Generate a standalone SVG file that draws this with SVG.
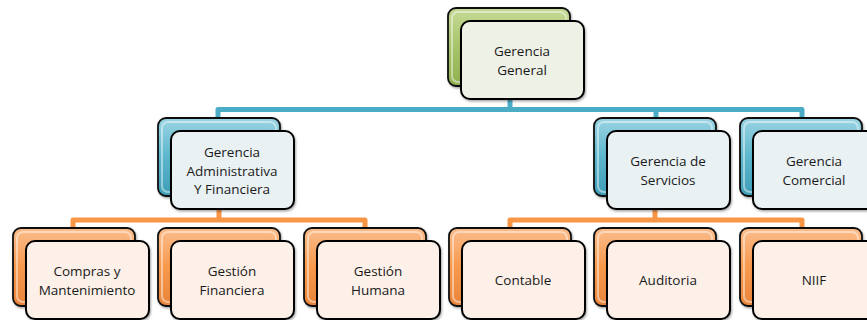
<svg xmlns="http://www.w3.org/2000/svg" width="867" height="320" viewBox="0 0 867 320">
<defs>
<linearGradient id="gGreen" x1="0" y1="0" x2="0" y2="1">
<stop offset="0" stop-color="#c5da95"/><stop offset="0.5" stop-color="#a6c46a"/><stop offset="1" stop-color="#8fb050"/>
</linearGradient>
<linearGradient id="gBlue" x1="0" y1="0" x2="0" y2="1">
<stop offset="0" stop-color="#9ad4e2"/><stop offset="0.5" stop-color="#5cb6cd"/><stop offset="1" stop-color="#3d9db6"/>
</linearGradient>
<linearGradient id="gOrange" x1="0" y1="0" x2="0" y2="1">
<stop offset="0" stop-color="#fbbd8c"/><stop offset="0.5" stop-color="#f7994c"/><stop offset="1" stop-color="#e9843a"/>
</linearGradient>
<filter id="sh" x="-10%" y="-10%" width="130%" height="130%">
<feDropShadow dx="1" dy="1.5" stdDeviation="1" flood-color="#000" flood-opacity="0.35"/>
</filter>
</defs>
<style>
.back{stroke:#111;stroke-width:1.8;filter:url(#sh)}
.hl{fill:none;stroke:#ffffff;stroke-opacity:0.45;stroke-width:2}
.front{stroke:#000;stroke-width:2;filter:url(#sh)}
.f1{fill:#eef1e6}
.f2{fill:#e9f1f3}
.f3{fill:#fcf0e8}
.lbl{font-family:"Open Sans","Noto Sans",sans-serif;font-size:13.5px;fill:#1a1a1a;text-anchor:middle}
.cb{fill:none;stroke:#4bacc6;stroke-width:5;stroke-linejoin:round}
.co{fill:none;stroke:#f79646;stroke-width:5;stroke-linejoin:round}
</style>
<g id="connectors">
<path class="cb" d="M510,88 V109.5 M218,122 V109.5 H802 V122 M656,109.5 V122"/>
<path class="co" d="M219,205 V220 M73,232 V220 H365 V232 M655,205 V220 M510,232 V220 H802 V232"/>
</g>
<g id="n-gerencia-general">
<rect class="back" x="448" y="8" width="122" height="78" rx="8" fill="url(#gGreen)"/>
<rect class="hl" x="452" y="12" width="114" height="70" rx="6"/>
<rect class="front f1" x="461" y="21" width="123" height="78" rx="9"/>
<text class="lbl" x="522" y="56">Gerencia</text>
<text class="lbl" x="522" y="74.5">General</text>
</g>
<g id="n-admin">
<rect class="back" x="158" y="118" width="122" height="78" rx="8" fill="url(#gBlue)"/>
<rect class="hl" x="162" y="122" width="114" height="70" rx="6"/>
<rect class="front f2" x="171" y="131" width="123" height="78" rx="9"/>
<text class="lbl" x="232" y="157">Gerencia</text>
<text class="lbl" x="232" y="175.5">Administrativa</text>
<text class="lbl" x="232" y="194">Y Financiera</text>
</g>
<g id="n-servicios">
<rect class="back" x="594" y="118" width="122" height="78" rx="8" fill="url(#gBlue)"/>
<rect class="hl" x="598" y="122" width="114" height="70" rx="6"/>
<rect class="front f2" x="607" y="131" width="123" height="78" rx="9"/>
<text class="lbl" x="668" y="166">Gerencia de</text>
<text class="lbl" x="668" y="184.5">Servicios</text>
</g>
<g id="n-comercial">
<rect class="back" x="740" y="118" width="122" height="78" rx="8" fill="url(#gBlue)"/>
<rect class="hl" x="744" y="122" width="114" height="70" rx="6"/>
<rect class="front f2" x="753" y="131" width="123" height="78" rx="9"/>
<text class="lbl" x="814" y="166">Gerencia</text>
<text class="lbl" x="814" y="184.5">Comercial</text>
</g>
<g id="n-compras">
<rect class="back" x="13" y="228" width="122" height="78" rx="8" fill="url(#gOrange)"/>
<rect class="hl" x="17" y="232" width="114" height="70" rx="6"/>
<rect class="front f3" x="26" y="241" width="123" height="78" rx="9"/>
<text class="lbl" x="87" y="276">Compras y</text>
<text class="lbl" x="87" y="294.5">Mantenimiento</text>
</g>
<g id="n-gestion-financiera">
<rect class="back" x="158" y="228" width="122" height="78" rx="8" fill="url(#gOrange)"/>
<rect class="hl" x="162" y="232" width="114" height="70" rx="6"/>
<rect class="front f3" x="171" y="241" width="123" height="78" rx="9"/>
<text class="lbl" x="232" y="276">Gestión</text>
<text class="lbl" x="232" y="294.5">Financiera</text>
</g>
<g id="n-gestion-humana">
<rect class="back" x="304" y="228" width="122" height="78" rx="8" fill="url(#gOrange)"/>
<rect class="hl" x="308" y="232" width="114" height="70" rx="6"/>
<rect class="front f3" x="317" y="241" width="123" height="78" rx="9"/>
<text class="lbl" x="378" y="276">Gestión</text>
<text class="lbl" x="378" y="294.5">Humana</text>
</g>
<g id="n-contable">
<rect class="back" x="449" y="228" width="122" height="78" rx="8" fill="url(#gOrange)"/>
<rect class="hl" x="453" y="232" width="114" height="70" rx="6"/>
<rect class="front f3" x="462" y="241" width="123" height="78" rx="9"/>
<text class="lbl" x="523" y="285">Contable</text>
</g>
<g id="n-auditoria">
<rect class="back" x="594" y="228" width="122" height="78" rx="8" fill="url(#gOrange)"/>
<rect class="hl" x="598" y="232" width="114" height="70" rx="6"/>
<rect class="front f3" x="607" y="241" width="123" height="78" rx="9"/>
<text class="lbl" x="668" y="285">Auditoria</text>
</g>
<g id="n-niif">
<rect class="back" x="740" y="228" width="122" height="78" rx="8" fill="url(#gOrange)"/>
<rect class="hl" x="744" y="232" width="114" height="70" rx="6"/>
<rect class="front f3" x="753" y="241" width="123" height="78" rx="9"/>
<text class="lbl" x="814" y="285">NIIF</text>
</g>
</svg>
